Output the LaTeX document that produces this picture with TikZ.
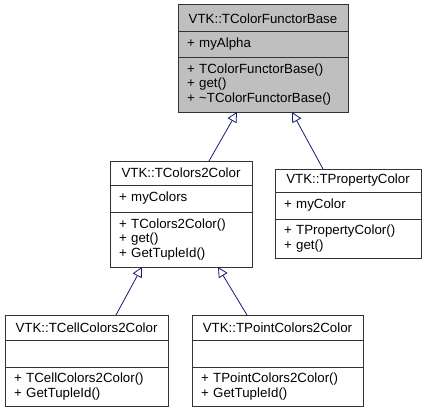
\documentclass[tikz,border=0pt]{standalone}
\usepackage{fontspec}
\setmainfont{Liberation Sans}
\usetikzlibrary{positioning,arrows.meta}
\definecolor{edgeblue}{HTML}{191970}
\definecolor{basegray}{HTML}{BFBFBF}
\begin{document}
\begin{tikzpicture}[x=1pt,y=-1pt,
  font=\fontsize{13.3}{14.6}\selectfont,
  part/.style={draw=black!80,line width=1pt,inner sep=0pt,outer sep=0pt,anchor=north west},
  title/.style={part,align=center},
  members/.style={part,align=left,inner xsep=9pt},
  inherit/.style={draw=edgeblue,line width=0.8pt,-{Triangle[open,length=10pt,width=10pt]}}]
  \useasboundingbox (0,0) rectangle (425,412);
  % base class
  \node[title,fill=basegray,minimum width=170pt,minimum height=27pt] (base) at (178,5) {VTK::TColorFunctorBase};
  \node[members,fill=basegray,text width=152pt,minimum height=25pt,below=0pt of base] (baseattr) {+ myAlpha};
  \node[members,fill=basegray,text width=152pt,minimum height=55pt,below=0pt of baseattr] (baseops) {+ TColorFunctorBase()\\+ get()\\+ \textasciitilde TColorFunctorBase()};
  % TColors2Color
  \node[title,minimum width=142pt,minimum height=24pt] (c2c) at (110,161) {VTK::TColors2Color};
  \node[members,text width=124pt,minimum height=27pt,below=0pt of c2c] (c2cattr) {+ myColors};
  \node[members,text width=124pt,minimum height=55pt,below=0pt of c2cattr] (c2cops) {+ TColors2Color()\\+ get()\\+ GetTupleId()};
  % TPropertyColor
  \node[title,minimum width=146pt,minimum height=23pt] (prop) at (275,169) {VTK::TPropertyColor};
  \node[members,text width=128pt,minimum height=27pt,below=0pt of prop] (propattr) {+ myColor};
  \node[members,text width=128pt,minimum height=39pt,below=0pt of propattr] (propops) {+ TPropertyColor()\\+ get()};
  % TCellColors2Color
  \node[title,minimum width=163pt,minimum height=25pt] (cell) at (5,315) {VTK::TCellColors2Color};
  \node[members,text width=145pt,minimum height=27pt,below=0pt of cell] (cellattr) {};
  \node[members,text width=145pt,minimum height=39pt,below=0pt of cellattr] (cellops) {+ TCellColors2Color()\\+ GetTupleId()};
  % TPointColors2Color
  \node[title,minimum width=171pt,minimum height=25pt] (point) at (192,315) {VTK::TPointColors2Color};
  \node[members,text width=153pt,minimum height=27pt,below=0pt of point] (pointattr) {};
  \node[members,text width=153pt,minimum height=39pt,below=0pt of pointattr] (pointops) {+ TPointColors2Color()\\+ GetTupleId()};
  % inheritance
  \draw[inherit] ([xshift=28pt]c2c.north) -- ([xshift=-26pt]baseops.south);
  \draw[inherit] ([xshift=-25pt]prop.north) -- ([xshift=29pt]baseops.south);
  \draw[inherit] ([xshift=29.5pt]cell.north) -- ([xshift=-39pt]c2cops.south);
  \draw[inherit] ([xshift=-30.5pt]point.north) -- ([xshift=37pt]c2cops.south);
\end{tikzpicture}
\end{document}
